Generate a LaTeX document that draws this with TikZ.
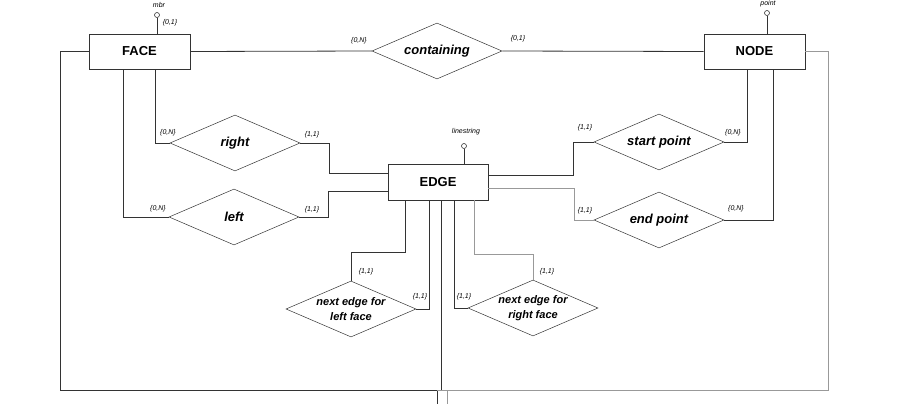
\documentclass[tikz,border=0pt]{standalone}
\usepackage{fontspec}
\setsansfont{Liberation Sans}
\usetikzlibrary{shapes.geometric}

\begin{document}
\begin{tikzpicture}[x=1pt,y=-1pt,
    every node/.style={font=\sffamily},
    entity/.style={rectangle,draw=black!80,line width=.8pt,minimum width=101pt,
      minimum height=35pt,font=\sffamily\bfseries\fontsize{13}{15}\selectfont},
    relation/.style={diamond,aspect=2.3,draw=black!80,line width=.5pt,minimum width=130pt,
      minimum height=56pt,inner sep=0pt,
      font=\sffamily\bfseries\itshape\fontsize{13}{15}\selectfont},
    twoline/.style={align=center,font=\sffamily\bfseries\itshape\fontsize{11}{14.5}\selectfont},
    attrib/.style={circle,draw=black!80,line width=.6pt,minimum size=5pt,inner sep=0pt},
    card/.style={font=\sffamily\itshape\fontsize{7}{8}\selectfont,inner sep=0pt},
    link/.style={draw=black!80,line width=.8pt},
    lightlink/.style={draw=black!40,line width=.8pt}]

      \useasboundingbox (0,0) rectangle (910,404);

      \begin{scope}
        \node[entity] (face) at (139.5,51.5) {FACE};
        \node[entity] (node) at (754.5,51.5) {NODE};
        \node[entity,minimum width=100pt,minimum height=36pt] (edge) at (438,182) {EDGE};
        \node[relation] (containing) at (437,51)  {containing};
        \node[relation] (right)      at (235,143) {right};
        \node[relation] (left)       at (234,217) {left};
        \node[relation] (start)      at (659,142) {start point};
        \node[relation] (endpt)      at (659,220) {end point};
        \node[relation,label={[twoline]center:next edge for\\left face}] (nextl) at (351,309) {};
        \node[relation,label={[twoline]center:next edge for\\right face}] (nextr) at (533,308) {};
        \node[attrib] (mbr)        at (157,15)  {};
        \node[attrib] (point)      at (767,13)  {};
        \node[attrib] (linestring) at (464,146) {};
      \end{scope}

      \coordinate (loopl) at (60,390);
      \coordinate (loopr) at (828,390);
      \coordinate (outl)  at (437,404);
      \coordinate (outr)  at (447,404);

      % attributes
      \draw[link] (mbr) -- (mbr |- face.north);
      \draw[link] (point) -- (point |- node.north);
      \draw[link] (linestring) -- (linestring |- edge.north);

      % FACE - NODE
      \draw[link] (face.east) -- (containing.west);
      \draw[link] (containing.east) -- (node.west);
      \draw[link] (face.west) -| (loopl) -| (outl);
      \draw[lightlink] (node.east) -| (loopr) -- (loopr -| outl);
      \draw[lightlink] (loopr -| outr) -- (outr);
      \draw[link] ([xshift=3pt]edge.south) -- ([xshift=3pt]edge.south |- loopl);

      % FACE - EDGE
      \draw[link] ([xshift=15.5pt]face.south) |- (right.west);
      \draw[link] ([xshift=-16.5pt]face.south) |- (left.west);
      \draw[link] (right.east) -- ++(29,0) |- ([yshift=9pt]edge.west);
      \draw[link] (left.east) -- ++(29,0) |- ([yshift=-9pt]edge.west);

      % EDGE - NODE
      \draw[link] ([yshift=7pt]edge.east) -- ++(85,0) |- (start.west);
      \draw[lightlink] ([yshift=-6pt]edge.east) -- ++(86,0) |- (endpt.west);
      \draw[link] (start.east) -| ([xshift=-7.5pt]node.south);
      \draw[link] (endpt.east) -| ([xshift=18.5pt]node.south);

      % EDGE - EDGE
      \draw[link] ([xshift=-33pt]edge.south) -- ++(0,52) -| (nextl.north);
      \draw[link] ([xshift=-9pt]edge.south) |- (nextl.east);
      \draw[link] ([xshift=16pt]edge.south) |- (nextr.west);
      \draw[lightlink] ([xshift=36pt]edge.south) -- ++(0,54) -| (nextr.north);

      \begin{scope}[every node/.style={card}]
        \node (lmbr)   at (159,5)   {mbr};
        \node (lpoint) at (768,4)   {point};
        \node (lline)  at (466,132) {linestring};
        \node (c1)  at (170,23)  {\{0,1\}};
        \node (c2)  at (359,41)  {\{0,N\}};
        \node (c3)  at (518,39)  {\{0,1\}};
        \node (c4)  at (168,133) {\{0,N\}};
        \node (c5)  at (312,135) {\{1,1\}};
        \node (c6)  at (158,209) {\{0,N\}};
        \node (c7)  at (312,210) {\{1,1\}};
        \node (c8)  at (585,128) {\{1,1\}};
        \node (c9)  at (733,133) {\{0,N\}};
        \node (c10) at (585,211) {\{1,1\}};
        \node (c11) at (736,209) {\{0,N\}};
        \node (c12) at (366,272) {\{1,1\}};
        \node (c13) at (420,297) {\{1,1\}};
        \node (c14) at (464,297) {\{1,1\}};
        \node (c15) at (547,272) {\{1,1\}};
      \end{scope}

    \end{tikzpicture}
\end{document}
